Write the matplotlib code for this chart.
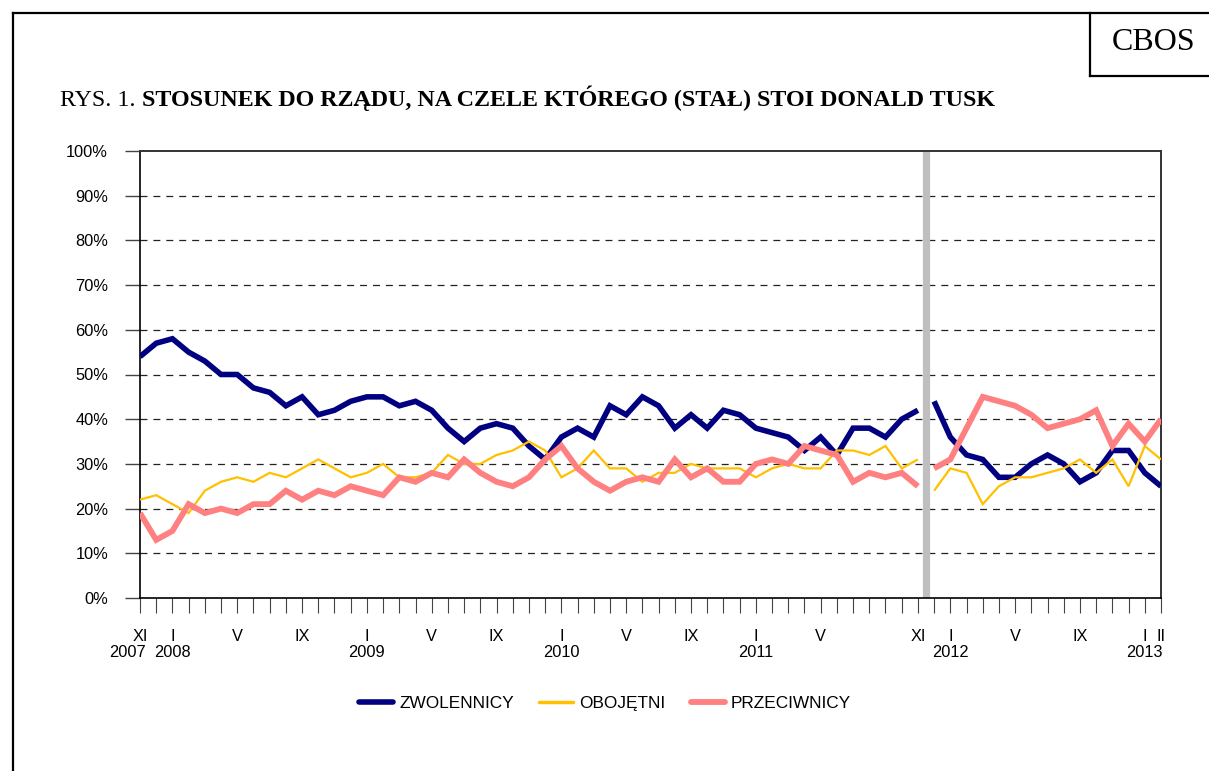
import numpy as np
import matplotlib
matplotlib.use("Agg")
import matplotlib.pyplot as plt
from matplotlib.lines import Line2D

# ---------------- data ----------------
zwolennicy = [54, 57, 58, 55, 53, 50, 50, 47, 46, 43, 45, 41, 42, 44,
              45, 45, 43, 44, 42, 38, 35, 38, 39, 38, 34, 31, 36,
              38, 36, 43, 41, 45, 43, 38, 41, 38, 42, 41, 38, 37,
              36, 33, 36, 32, 38, 38, 36, 40, 42,
              44, 36, 32, 31, 27, 27, 30, 32, 30, 26, 28, 33, 33, 28, 25]
obojetni = [22, 23, 21, 19, 24, 26, 27, 26, 28, 27, 29, 31, 29, 27,
            28, 30, 27, 27, 28, 32, 30, 30, 32, 33, 35, 33, 27,
            29, 33, 29, 29, 26, 28, 28, 30, 29, 29, 29, 27, 29,
            30, 29, 29, 33, 33, 32, 34, 29, 31,
            24, 29, 28, 21, 25, 27, 27, 28, 29, 31, 28, 31, 25, 34, 31]
przeciwnicy = [19, 13, 15, 21, 19, 20, 19, 21, 21, 24, 22, 24, 23, 25,
               24, 23, 27, 26, 28, 27, 31, 28, 26, 25, 27, 31, 34,
               29, 26, 24, 26, 27, 26, 31, 27, 29, 26, 26, 30, 31,
               30, 34, 33, 32, 26, 28, 27, 28, 25,
               29, 31, 38, 45, 44, 43, 41, 38, 39, 40, 42, 34, 39, 35, 40]

# month labels (index into monthly series starting XI 2007)
month_label_idx = [0, 2, 6, 10, 14, 18, 22, 26, 30, 34, 38, 42, 48, 50, 54, 58, 62, 63]
month_labels = ["XI", "I", "V", "IX", "I", "V", "IX", "I", "V", "IX", "I", "V",
                "XI", "I", "V", "IX", "I", "II"]
year_labels = ["2007", "2008", "2009", "2010", "2011", "2012", "2013"]
year_label_pos = [-0.75, 2, 14, 26, 38, 50, 62]
break_after = 48   # survey series break (after XI 2011)

series_names = ["ZWOLENNICY", "OBOJĘTNI", "PRZECIWNICY"]
colors = ["#000080", "#FFC000", "#FF8080"]
widths = [4.0, 1.6, 4.2]

# ---------------- figure ----------------
W, H = 1209, 771
fig = plt.figure(figsize=(W / 100, H / 100), dpi=100)
plt.rcParams['lines.scale_dashes'] = False

def fx(px):
    return px / W

def fy(py):
    return 1 - py / H

ax = fig.add_axes([fx(140), fy(598), fx(1161) - fx(140), fy(151) - fy(598)])

n = len(zwolennicy)
x = np.arange(n)
data = [zwolennicy, obojetni, przeciwnicy]

# grid
for v in range(10, 100, 10):
    ax.axhline(v, color="#222222", lw=0.9, linestyle=(0, (5.0, 4.3)), zorder=1)

# series break bar
ax.axvline(break_after + 0.5, color="#BFBFBF", lw=5.2, zorder=2)

handles = []
for vals, c, lw, name in zip(data, colors, widths, series_names):
    vals = np.asarray(vals, dtype=float)
    ax.plot(x[:break_after + 1], vals[:break_after + 1], color=c, lw=lw,
            solid_joinstyle="miter", solid_capstyle="butt", zorder=3)
    ax.plot(x[break_after + 1:], vals[break_after + 1:], color=c, lw=lw,
            solid_joinstyle="miter", solid_capstyle="butt", zorder=3)
    handles.append(Line2D([], [], color=c, lw=max(lw, 3.5) if c != "#FFC000" else 2.5,
                          solid_capstyle="round", label=name))

ax.set_xlim(0, n - 1)
ax.set_ylim(0, 100)

# axes styling
for s in ["left", "bottom"]:
    ax.spines[s].set_color("black")
    ax.spines[s].set_linewidth(1.2)
for s in ["top", "right"]:
    ax.spines[s].set_color("#333333")
    ax.spines[s].set_linewidth(1.4)

tick_font = dict(family="Liberation Sans", size=11.8)
ax.set_yticks(range(0, 101, 10))
ax.set_yticklabels([f"{v}%" for v in range(0, 101, 10)], **tick_font)
ax.tick_params(axis="y", direction="out", length=11, width=1.0, color="#444444", pad=12)

ax.set_xticks(x)
labels = [""] * n
for i, l in zip(month_label_idx, month_labels):
    labels[i] = l
ax.set_xticklabels(labels, **tick_font)
ax.tick_params(axis="x", direction="out", length=11, width=0.8, color="#444444", pad=11)

for lab, pos in zip(year_labels, year_label_pos):
    ax.text(pos, -0.121, lab, transform=ax.get_xaxis_transform(),
            ha="center", va="center", **tick_font)

# legend
fig.legend(handles=handles, loc="center", bbox_to_anchor=(fx(605), fy(703)),
           ncol=3, frameon=False, prop=dict(family="Liberation Sans", size=12.4),
           handlelength=2.0, handletextpad=0.35, columnspacing=1.45)

# title
t1 = fig.text(fx(60), fy(106), "RYS. 1. ", family="Liberation Serif",
              size=17.3, ha="left", va="baseline")
fig.canvas.draw()
bb = t1.get_window_extent()
fig.text(bb.x1 / W, fy(106), "STOSUNEK DO RZĄDU, NA CZELE KTÓREGO (STAŁ) STOI DONALD TUSK",
         family="Liberation Serif", weight="bold", size=17.3, ha="left", va="baseline")

# frame lines and CBOS box
lc = dict(color="black", lw=1.6, transform=fig.transFigure)
fig.add_artist(Line2D([fx(13), fx(13)], [fy(13), fy(771)], **lc))
fig.add_artist(Line2D([fx(13), fx(1209)], [fy(13), fy(13)], **lc))
fig.add_artist(Line2D([fx(1090), fx(1090)], [fy(13), fy(76)], **lc))
fig.add_artist(Line2D([fx(1090), fx(1209)], [fy(76), fy(76)], **lc))
fig.text(fx(1154), fy(43), "CBOS", family="Liberation Serif", size=23,
         ha="center", va="center")

fig.savefig("out.png", dpi=100)
